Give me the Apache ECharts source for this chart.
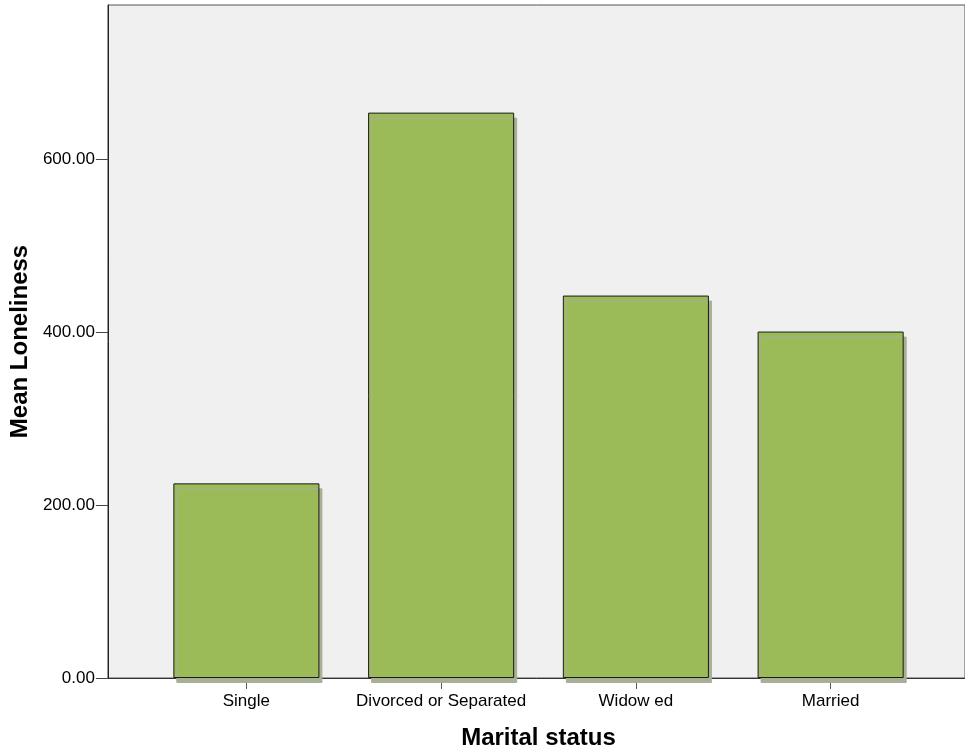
<!DOCTYPE html>
<html>
<head>
<meta charset="utf-8">
<script src="https://cdn.jsdelivr.net/npm/echarts@6/dist/echarts.min.js"></script>
<style>
html,body{margin:0;padding:0;background:#fff;}
#chart{width:965px;height:755px;}
</style>
</head>
<body>
<div id="chart"></div>
<script>
const categories = ['Single', 'Divorced or Separated', 'Widow ed', 'Married'];
const meanLoneliness = [225.0, 653.6, 442.1, 400.5];
const yTicks = [0, 200, 400, 600];
const yMax = 778;

const FONT = '"Liberation Sans", Arial, sans-serif';
const chart = echarts.init(document.getElementById('chart'), null, {renderer: 'canvas'});
chart.setOption({
  animation: false,
  backgroundColor: '#ffffff',
  textStyle: {fontFamily: FONT},
  grid: [
    {left: 105, right: -3, top: 5, bottom: 77, show: true, backgroundColor: '#F0F0F0',
     borderColor: '#555', borderWidth: 1},
    {left: 149, right: 37, top: 5, bottom: 77}
  ],
  xAxis: [
    {gridIndex: 0, type: 'value', min: 0, max: 1,
     axisLine: {show: true, lineStyle: {color: '#333', width: 1}},
     axisTick: {show: false}, axisLabel: {show: false}, splitLine: {show: false}},
    {gridIndex: 1, type: 'category', data: categories,
     axisLine: {show: false},
     axisTick: {show: true, alignWithLabel: true, interval: 0, length: 11, lineStyle: {color: '#555'}},
     axisLabel: {fontSize: 17, color: '#000', margin: 15, interval: 0, fontFamily: FONT},
     name: 'Marital status', nameLocation: 'middle', nameGap: 48,
     nameTextStyle: {fontSize: 24, fontWeight: 'bold', color: '#000', fontFamily: FONT}},
  ],
  yAxis: [
    {gridIndex: 0, type: 'value', min: 0, max: yMax, interval: 200,
     axisLine: {show: true, lineStyle: {color: '#222', width: 1}},
     axisTick: {show: true, length: 12, customValues: yTicks, lineStyle: {color: '#444'}},
     axisLabel: {fontSize: 17, color: '#000', margin: 13, customValues: yTicks, fontFamily: FONT,
                 formatter: v => Number(v).toFixed(2)},
     splitLine: {show: false},
     name: 'Mean Loneliness', nameLocation: 'middle', nameGap: 71,
     nameTextStyle: {fontSize: 24, fontWeight: 'bold', color: '#000', fontFamily: FONT}},
    {gridIndex: 1, type: 'value', min: 0, max: yMax, show: false}
  ],
  series: [{
    type: 'bar',
    xAxisIndex: 1, yAxisIndex: 1,
    data: meanLoneliness,
    barWidth: '75%',
    clip: false,
    z: 3,
    itemStyle: {color: '#9BBB59', borderColor: '#1a1a1a', borderWidth: 1,
                shadowColor: '#A7AF94', shadowBlur: 0, shadowOffsetX: 3, shadowOffsetY: 5}
  }]
});
</script>
</body>
</html>
